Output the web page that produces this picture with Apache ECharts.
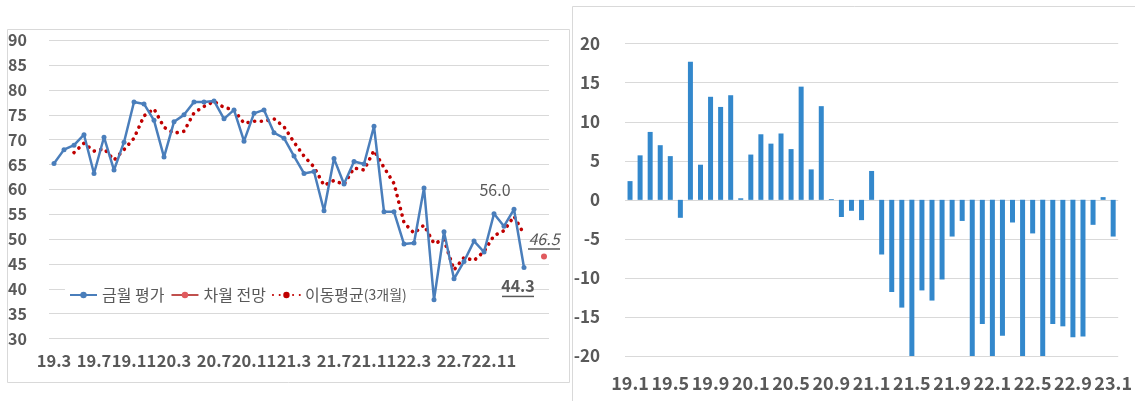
<!DOCTYPE html>
<html>
<head>
<meta charset="utf-8">
<script src="https://cdn.jsdelivr.net/npm/echarts@6/dist/echarts.min.js"></script>
<style>
  html, body { margin: 0; padding: 0; background: #ffffff; }
  #c { width: 1135px; height: 401px; }
</style>
</head>
<body>
<div id="c"></div>
<script>
// ---- left panel: monthly index (19.3 – 23.4) ----
const monthsLeft = [
  '19.3','19.4','19.5','19.6','19.7','19.8','19.9','19.10','19.11','19.12',
  '20.1','20.2','20.3','20.4','20.5','20.6','20.7','20.8','20.9','20.10','20.11','20.12',
  '21.1','21.2','21.3','21.4','21.5','21.6','21.7','21.8','21.9','21.10','21.11','21.12',
  '22.1','22.2','22.3','22.4','22.5','22.6','22.7','22.8','22.9','22.10','22.11','22.12',
  '23.1','23.2','23.3','23.4'
];
const leftTicks = ['19.3','19.7','19.11','20.3','20.7','20.11','21.3','21.7','21.11','22.3','22.7','22.11'];

// 금월 평가
const currentMonth = [
  65.2, 68.0, 68.9, 71.0, 63.2, 70.5, 63.9, 69.5, 77.6, 77.2,
  73.9, 66.5, 73.6, 75.0, 77.6, 77.6, 77.8, 74.2, 76.0, 69.7,
  75.3, 76.0, 71.4, 70.3, 66.7, 63.2, 63.6, 55.7, 66.2, 61.1,
  65.6, 65.1, 72.7, 55.5, 55.5, 49.0, 49.2, 60.3, 37.8, 51.5,
  42.0, 45.5, 49.6, 47.4, 55.1, 52.6, 56.0, 44.3, null, null
];
// 차월 전망
const nextMonth = [
  null, null, null, null, null, null, null, null, null, null,
  null, null, null, null, null, null, null, null, null, null,
  null, null, null, null, null, null, null, null, null, null,
  null, null, null, null, null, null, null, null, null, null,
  null, null, null, null, null, null, null, null, null, 46.5
];
// 이동평균(3개월)
const movingAvg = [
  null, null, 67.4, 69.3, 67.7, 68.2, 65.9, 68.0, 70.3, 74.8,
  76.2, 72.5, 71.3, 71.7, 75.4, 76.7, 77.7, 76.5, 76.0, 73.3,
  73.7, 73.7, 74.2, 72.6, 69.5, 66.7, 64.5, 60.8, 61.8, 61.0,
  64.3, 63.9, 67.8, 64.4, 61.2, 53.3, 51.2, 52.8, 49.1, 49.9,
  43.8, 46.3, 45.7, 47.5, 50.7, 51.7, 54.6, 51.0, null, null
];

// ---- right panel: monthly change (19.1 – 23.1) ----
const monthsRight = [
  '19.1','19.2','19.3','19.4','19.5','19.6','19.7','19.8','19.9','19.10','19.11','19.12',
  '20.1','20.2','20.3','20.4','20.5','20.6','20.7','20.8','20.9','20.10','20.11','20.12',
  '21.1','21.2','21.3','21.4','21.5','21.6','21.7','21.8','21.9','21.10','21.11','21.12',
  '22.1','22.2','22.3','22.4','22.5','22.6','22.7','22.8','22.9','22.10','22.11','22.12',
  '23.1'
];
const rightTicks = ['19.1','19.5','19.9','20.1','20.5','20.9','21.1','21.5','21.9','22.1','22.5','22.9','23.1'];
const change = [
  2.4, 5.7, 8.7, 7.0, 5.6, -2.3, 17.7, 4.5, 13.2, 11.9, 13.4, 0.2,
  5.8, 8.4, 7.2, 8.5, 6.5, 14.5, 3.9, 12.0, 0.1, -2.2, -1.4, -2.6,
  3.7, -7.0, -11.8, -13.8, -20, -11.6, -12.9, -10.2, -4.7, -2.7, -20, -15.9,
  -20, -17.4, -2.9, -20, -4.3, -20, -15.9, -16.2, -17.6, -17.5, -3.2, 0.35,
  -4.7
];

const TEXT = '#595959';
const GRID = '#D9D9D9';
const FONT = "'Noto Sans CJK KR', 'Noto Sans', sans-serif";

// labelled points on the current-month line
const LAST = 47, PEAK = 46;
const currentData = currentMonth.map((v, i) => {
  if (i === PEAK) {
    return { value: v, label: { show: true, position: 'top', offset: [-19, -4],
      formatter: p => p.value.toFixed(1), fontSize: 16, color: TEXT } };
  }
  if (i === LAST) {
    return { value: v, label: { show: true, position: 'bottom', offset: [-6, 2],
      formatter: p => '{t|' + p.value.toFixed(1) + '}\n{u|}',
      rich: {
        t: { fontSize: 16, fontWeight: 'bold', color: TEXT, lineHeight: 18, fontFamily: FONT },
        u: { width: 32, height: 1.5, lineHeight: 3, backgroundColor: TEXT }
      } } };
  }
  return v;
});
const nextData = nextMonth.map(v => v == null ? v : {
  value: v,
  label: { show: true, position: 'top', distance: 3,
    formatter: p => '{t|' + p.value.toFixed(1) + '}\n{u|}',
    rich: {
      t: { fontSize: 16, fontStyle: 'italic', color: TEXT, lineHeight: 18, fontFamily: FONT },
      u: { width: 32, height: 1.5, lineHeight: 3, backgroundColor: TEXT }
    } }
});

const chart = echarts.init(document.getElementById('c'), null, { renderer: 'canvas' });

chart.setOption({
  animation: false,
  backgroundColor: '#ffffff',
  textStyle: { fontFamily: FONT },
  graphic: [
    { type: 'rect', shape: { x: 7.5, y: 29.5, width: 562, height: 353 },
      style: { fill: 'none', stroke: GRID, lineWidth: 1 }, silent: true, z: -1 },
    { type: 'rect', shape: { x: 572.5, y: 6.5, width: 600, height: 440 },
      style: { fill: 'none', stroke: GRID, lineWidth: 1 }, silent: true, z: -1 }
  ],
  grid: [
    { left: 49, top: 40.3, width: 500, height: 298.2 },
    { left: 625, top: 43.7, width: 496, height: 312.3 }
  ],
  legend: {
    data: ['금월 평가', '차월 전망', '이동평균(3개월)'],
    left: 65, top: 284,
    backgroundColor: '#ffffff',
    padding: [3, 4],
    itemGap: 6,
    itemWidth: 27, itemHeight: 8,
    textStyle: {
      fontSize: 16, color: TEXT, fontFamily: FONT,
      rich: {
        a: { fontSize: 16, color: TEXT, fontFamily: FONT },
        b: { fontSize: 14, color: TEXT, fontFamily: FONT }
      }
    },
    formatter: name => {
      const k = name.indexOf('(');
      return k > 0 ? '{a|' + name.slice(0, k) + '}{b|' + name.slice(k) + '}' : name;
    }
  },
  xAxis: [
    {
      type: 'category', gridIndex: 0, data: monthsLeft, boundaryGap: true,
      axisLine: { show: false }, axisTick: { show: false },
      axisLabel: {
        interval: (i, v) => leftTicks.indexOf(v) >= 0,
        margin: 14, fontSize: 16.5, fontWeight: 'bold', color: TEXT, fontFamily: FONT
      }
    },
    {
      type: 'category', gridIndex: 1, data: monthsRight, boundaryGap: true,
      axisLine: { show: false }, axisTick: { show: false },
      axisLabel: {
        interval: (i, v) => rightTicks.indexOf(v) >= 0,
        margin: 18, fontSize: 18, fontWeight: 'bold', color: TEXT, fontFamily: FONT
      }
    }
  ],
  yAxis: [
    {
      type: 'value', gridIndex: 0, min: 30, max: 90, interval: 5,
      axisLine: { show: false }, axisTick: { show: false },
      splitLine: { lineStyle: { color: GRID, width: 1 } },
      axisLabel: { margin: 22, fontSize: 16, fontWeight: 'bold', color: TEXT, fontFamily: FONT }
    },
    {
      type: 'value', gridIndex: 1, min: -20, max: 20, interval: 5,
      axisLine: { show: false }, axisTick: { show: false },
      splitLine: { lineStyle: { color: GRID, width: 1 } },
      axisLabel: { margin: 25, fontSize: 17, fontWeight: 'bold', color: TEXT, fontFamily: FONT }
    }
  ],
  series: [
    {
      name: '금월 평가', type: 'line', xAxisIndex: 0, yAxisIndex: 0,
      data: currentData,
      color: '#4A7EBB',
      lineStyle: { width: 2.5, color: '#4A7EBB' },
      symbol: 'circle', symbolSize: 5,
      itemStyle: { color: '#4A7EBB' },
      z: 4
    },
    {
      name: '차월 전망', type: 'line', xAxisIndex: 0, yAxisIndex: 0,
      data: nextData,
      color: '#C0504D',
      lineStyle: { width: 2.5, color: '#C0504D' },
      symbol: 'circle', symbolSize: 6,
      itemStyle: { color: '#E05A5E' },
      z: 5
    },
    {
      name: '이동평균(3개월)', type: 'line', xAxisIndex: 0, yAxisIndex: 0,
      data: movingAvg,
      color: '#C00000',
      lineStyle: { width: 3.6, color: '#C00000', type: [0.1, 6.6], cap: 'round' },
      symbol: 'none',
      z: 3
    },
    {
      name: '증감', type: 'bar', xAxisIndex: 1, yAxisIndex: 1,
      data: change,
      barWidth: 5,
      itemStyle: { color: '#3388CC' }
    }
  ]
});
</script>
</body>
</html>
